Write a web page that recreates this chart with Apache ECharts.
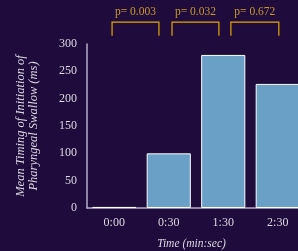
<!DOCTYPE html>
<html>
<head>
<meta charset="utf-8">
<script src="https://cdn.jsdelivr.net/npm/echarts@6/dist/echarts.min.js"></script>
<style>
  html, body { margin: 0; padding: 0; background: #200c3c; }
  #chart { width: 298px; height: 251px; }
</style>
</head>
<body>
<div id="chart"></div>
<script>
// time points and mean timing (ms)
var categories = ['0:00', '0:30', '1:30', '2:30'];
var meanTiming = [2, 100, 280, 227];

// significance brackets: start / end in category units, label
var bracketStart = [-0.04, 1.06, 2.14];
var bracketEnd = [0.82, 1.92, 3.02];
var bracketLabels = ['p= 0.003', 'p= 0.032', 'p= 0.672'];
var bracketTop = 340, bracketFoot = 315, bracketText = 358;

var font = '"Liberation Serif", "DejaVu Serif", serif';
var chart = echarts.init(document.getElementById('chart'));

var bracketData = bracketStart.map(function (s, i) {
    return [s, bracketEnd[i], bracketLabels[i]];
});

var option = {
    backgroundColor: '#200c3c',
    animation: false,
    grid: { left: 87, top: 44, bottom: 43, right: -7, containLabel: false, outerBoundsMode: 'none' },
    xAxis: [{
        type: 'category',
        data: categories,
        axisLine: { lineStyle: { color: '#b4acc8', width: 1.5 } },
        axisTick: { show: false },
        axisLabel: { color: '#dcd8e4', fontFamily: font, fontSize: 12, margin: 9 },
        name: 'Time (min:sec)',
        nameLocation: 'middle',
        nameGap: 30,
        nameTextStyle: { color: '#dcd8e4', fontFamily: font, fontSize: 11.5, fontStyle: 'italic', padding: [0, 9, 0, 0] }
    }, {
        type: 'value',
        min: -0.5,
        max: 3.5,
        show: false
    }],
    yAxis: {
        type: 'value',
        min: 0,
        max: 300,
        interval: 50,
        splitLine: { show: false },
        axisLine: { show: true, onZero: false, lineStyle: { color: '#b4acc8', width: 1.5 } },
        axisTick: { show: false },
        axisLabel: { color: '#dcd8e4', fontFamily: font, fontSize: 12, margin: 10 },
        name: 'Mean Timing of Initiation of\nPharyngeal Swallow (ms)',
        nameLocation: 'middle',
        nameGap: 47,
        nameTextStyle: { color: '#dcd8e4', fontFamily: font, fontSize: 12.5, fontStyle: 'italic', lineHeight: 13 }
    },
    series: [{
        type: 'bar',
        data: meanTiming,
        barCategoryGap: '19%',
        itemStyle: { color: '#6a9fc6', borderColor: '#ffffff', borderWidth: 1 }
    }, {
        type: 'custom',
        xAxisIndex: 1,
        clip: false,
        data: bracketData,
        renderItem: function (params, api) {
            var a = api.coord([api.value(0), bracketFoot]);
            var b = api.coord([api.value(1), bracketTop]);
            var t = api.coord([(api.value(0) + api.value(1)) / 2, bracketText]);
            return {
                type: 'group',
                children: [{
                    type: 'polyline',
                    shape: { points: [[a[0], a[1]], [a[0], b[1]], [b[0], b[1]], [b[0], a[1]]] },
                    style: { stroke: '#e0a800', lineWidth: 1.2, fill: null }
                }, {
                    type: 'text',
                    style: {
                        x: t[0], y: t[1],
                        text: bracketData[params.dataIndex][2],
                        fill: '#c99a2a',
                        font: '11.5px ' + font,
                        align: 'center',
                        verticalAlign: 'middle'
                    }
                }]
            };
        }
    }]
};
chart.setOption(option);
</script>
</body>
</html>
